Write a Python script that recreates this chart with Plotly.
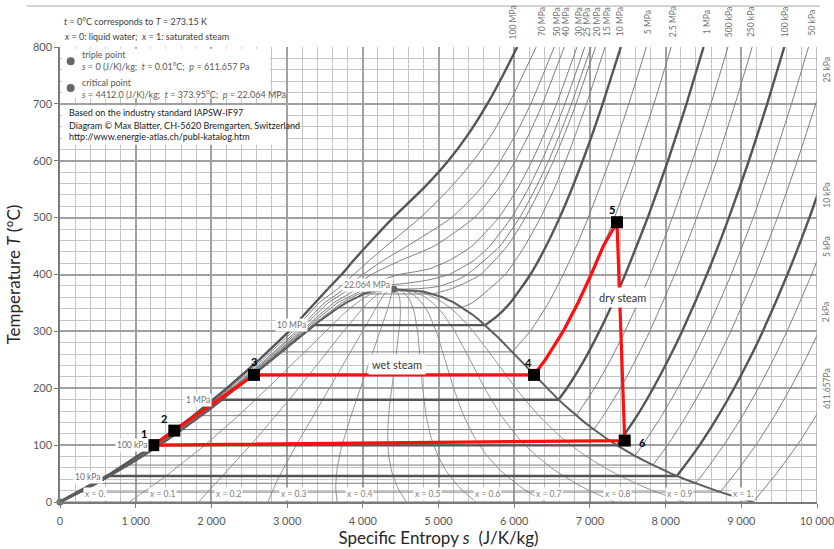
import plotly.graph_objects as go

# ---------------------------------------------------------------
# Saturation curve of water (T in °C, s in J/(K·kg))
# ---------------------------------------------------------------
SAT_T = [0.01, 10, 20, 30, 40, 50, 60, 70, 80, 90, 100, 110, 120, 130, 140, 150,
         160, 170, 180, 190, 200, 210, 220, 230, 240, 250, 260, 270, 280, 290,
         300, 310, 320, 330, 340, 350, 360, 365, 370, 372, 373.5, 373.95]
SAT_SF = [0, 151, 297, 437, 572, 704, 831, 955, 1075, 1193, 1307, 1419, 1528,
          1635, 1739, 1842, 1943, 2042, 2140, 2236, 2331, 2425, 2518, 2611, 2702,
          2794, 2885, 2976, 3067, 3159, 3253, 3349, 3449, 3551, 3659, 3777, 3916,
          4000, 4111, 4200, 4310, 4412]
SAT_SG = [9156, 8899, 8666, 8453, 8256, 8075, 7908, 7755, 7611, 7479, 7354, 7238,
          7129, 7027, 6929, 6837, 6750, 6666, 6585, 6507, 6431, 6356, 6285, 6214,
          6143, 6073, 6001, 5928, 5856, 5781, 5705, 5621, 5537, 5443, 5336, 5211,
          5054, 4946, 4801, 4620, 4510, 4412]

QUALITY = [0.1, 0.2, 0.3, 0.4, 0.5, 0.6, 0.7, 0.8, 0.9]
QUALITY_LABELS = ["x = 0.", "x = 0.1", "x = 0.2", "x = 0.3", "x = 0.4", "x = 0.5",
                  "x = 0.6", "x = 0.7", "x = 0.8", "x = 0.9", "x = 1."]
QUALITY_LABEL_S = [460, 1360, 2220, 3090, 3960, 4860, 5650, 6450, 7360, 8190, 9020]

# ---------------------------------------------------------------
# Sub-critical isobars: saturation state + superheated branch
# ---------------------------------------------------------------
SUB_NAMES = ["611.657 Pa", "2 kPa", "5 kPa", "10 kPa", "25 kPa", "50 kPa",
             "100 kPa", "250 kPa", "500 kPa", "1 MPa", "2.5 MPa", "5 MPa",
             "10 MPa", "15 MPa", "20 MPa"]
SUB_TSAT = [0.01, 17.50, 32.87, 45.81, 64.96, 81.32, 99.61, 127.41, 151.83,
            179.88, 223.95, 263.94, 311.00, 342.16, 365.75]
SUB_SF = [0, 261, 476, 649, 893, 1091, 1303, 1607, 1861, 2138, 2554, 2921,
          3360, 3685, 4015]
SUB_SG = [9156, 8722, 8394, 8149, 7831, 7593, 7359, 7052, 6821, 6585, 6256,
          5974, 5616, 5311, 4931]

VAP_T_611PA = [50, 100, 150, 200]
VAP_S_611PA = [9464, 9739, 9979, 10195]
VAP_T_2K = [50, 100, 150, 200, 250, 300, 350]
VAP_S_2K = [8917, 9192, 9432, 9648, 9845, 10026, 10195]
VAP_T_5K = [50, 100, 150, 200, 250, 300, 400, 500]
VAP_S_5K = [8498, 8769, 9009, 9225, 9421, 9603, 9929, 10220]
VAP_T_10K = [50, 100, 150, 200, 250, 300, 400, 500, 600]
VAP_S_10K = [8174, 8449, 8689, 8905, 9102, 9283, 9609, 9900, 10163]
VAP_T_25K = [100, 150, 200, 250, 300, 400, 500, 600, 700, 800]
VAP_S_25K = [8027, 8267, 8483, 8680, 8861, 9187, 9477, 9741, 9983, 10211]
VAP_T_50K = [100, 150, 200, 250, 300, 400, 500, 600, 700, 800]
VAP_S_50K = [7695, 7941, 8159, 8357, 8539, 8866, 9157, 9420, 9663, 9888]
VAP_T_100K = [150, 200, 250, 300, 400, 500, 600, 700, 800]
VAP_S_100K = [7615, 7836, 8035, 8217, 8545, 8836, 9100, 9342, 9568]
VAP_T_250K = [150, 200, 250, 300, 400, 500, 600, 700, 800]
VAP_S_250K = [7170, 7402, 7605, 7790, 8120, 8411, 8676, 8918, 9144]
VAP_T_500K = [200, 250, 300, 350, 400, 500, 600, 700, 800]
VAP_S_500K = [7061, 7273, 7461, 7635, 7796, 8089, 8354, 8598, 8824]
VAP_T_1M = [200, 250, 300, 350, 400, 500, 600, 700, 800]
VAP_S_1M = [6696, 6927, 7125, 7303, 7467, 7764, 8031, 8276, 8502]
VAP_T_2M5 = [250, 300, 350, 400, 450, 500, 600, 700, 800]
VAP_S_2M5 = [6411, 6646, 6842, 7017, 7177, 7325, 7598, 7846, 8074]
VAP_T_5M = [300, 350, 400, 450, 500, 600, 700, 800]
VAP_S_5M = [6211, 6452, 6648, 6821, 6978, 7261, 7514, 7746]
VAP_T_10M = [325, 350, 400, 450, 500, 550, 600, 650, 700, 800]
VAP_S_10M = [5760, 5946, 6214, 6422, 6600, 6759, 6905, 7041, 7169, 7409]
VAP_T_15M = [350, 400, 450, 500, 550, 600, 650, 700, 800]
VAP_S_15M = [5444, 5881, 6140, 6348, 6527, 6680, 6821, 6955, 7200]
VAP_T_20M = [375, 385, 400, 450, 500, 550, 600, 650, 700, 800]
VAP_S_20M = [5170, 5350, 5557, 5908, 6148, 6344, 6520, 6675, 6817, 7074]

SUB_VAP_T = [VAP_T_611PA, VAP_T_2K, VAP_T_5K, VAP_T_10K, VAP_T_25K, VAP_T_50K,
             VAP_T_100K, VAP_T_250K, VAP_T_500K, VAP_T_1M, VAP_T_2M5, VAP_T_5M,
             VAP_T_10M, VAP_T_15M, VAP_T_20M]
SUB_VAP_S = [VAP_S_611PA, VAP_S_2K, VAP_S_5K, VAP_S_10K, VAP_S_25K, VAP_S_50K,
             VAP_S_100K, VAP_S_250K, VAP_S_500K, VAP_S_1M, VAP_S_2M5, VAP_S_5M,
             VAP_S_10M, VAP_S_15M, VAP_S_20M]

# ---------------------------------------------------------------
# Critical and super-critical isobars
# ---------------------------------------------------------------
SUP_NAMES = ["22.064 MPa", "25 MPa", "30 MPa", "40 MPa", "50 MPa", "70 MPa", "100 MPa"]
COMP_T = [0.01, 50, 100, 150, 200, 250, 300, 350]
COMP_S_22M = [0, 703, 1300, 1832, 2318, 2780, 3220, 3720]
COMP_S_25M = [0, 700, 1293, 1822, 2304, 2765, 3200, 3660]
COMP_S_30M = [0, 698, 1289, 1815, 2295, 2752, 3180, 3610]
COMP_S_40M = [0, 694, 1281, 1802, 2280, 2730, 3150, 3540]
COMP_S_50M = [0, 690, 1274, 1792, 2265, 2710, 3120, 3490]
COMP_S_70M = [0, 682, 1260, 1772, 2240, 2675, 3075, 3420]
COMP_S_100M = [-10, 670, 1240, 1745, 2205, 2630, 3025, 3360]

HOT_T_22M = [365, 370, 373, 373.95, 375, 377, 380, 390, 400, 450, 500, 550, 600, 650, 700, 800]
HOT_S_22M = [3930, 4060, 4220, 4412, 4720, 4900, 5030, 5240, 5380, 5812, 6072, 6277, 6455, 6613, 6756, 7015]
HOT_T_25M = [375, 380, 385, 390, 400, 425, 450, 500, 550, 600, 650, 700, 800]
HOT_S_25M = [4034, 4260, 4600, 4850, 5140, 5470, 5676, 5964, 6182, 6364, 6524, 6670, 6932]
HOT_T_30M = [375, 400, 405, 410, 425, 450, 500, 550, 600, 650, 700, 800]
HOT_S_30M = [3931, 4476, 4700, 4880, 5147, 5442, 5796, 6040, 6237, 6407, 6560, 6830]
HOT_T_40M = [375, 400, 425, 450, 500, 550, 600, 650, 700, 800]
HOT_S_40M = [3829, 4115, 4504, 4945, 5474, 5786, 6017, 6208, 6374, 6661]
HOT_T_50M = [375, 400, 425, 450, 500, 550, 600, 650, 700, 800]
HOT_S_50M = [3764, 4003, 4273, 4588, 5173, 5549, 5818, 6034, 6219, 6529]
HOT_T_70M = [375, 400, 425, 450, 500, 550, 600, 650, 700, 800]
HOT_S_70M = [3670, 3880, 4090, 4310, 4760, 5140, 5460, 5720, 5930, 6290]
HOT_T_100M = [375, 400, 425, 450, 500, 550, 600, 650, 700, 750, 800]
HOT_S_100M = [3540, 3720, 3880, 4050, 4400, 4790, 5130, 5410, 5645, 5850, 6040]

SUP_COMP_S = [COMP_S_22M, COMP_S_25M, COMP_S_30M, COMP_S_40M, COMP_S_50M, COMP_S_70M, COMP_S_100M]
SUP_HOT_T = [HOT_T_22M, HOT_T_25M, HOT_T_30M, HOT_T_40M, HOT_T_50M, HOT_T_70M, HOT_T_100M]
SUP_HOT_S = [HOT_S_22M, HOT_S_25M, HOT_S_30M, HOT_S_40M, HOT_S_50M, HOT_S_70M, HOT_S_100M]

EMPHASISED = ["10 kPa", "100 kPa", "1 MPa", "10 MPa", "100 MPa"]

# labels along the top edge (isobar, s at the top) and along the right edge (isobar, T)
TOP_LABELS = ["100 MPa", "70 MPa", "50 MPa", "40 MPa", "30 MPa", "25 MPa", "20 MPa",
              "15 MPa", "10 MPa", "5 MPa", "2.5 MPa", "1 MPa", "500 kPa", "250 kPa",
              "100 kPa", "50 kPa"]
TOP_LABEL_S = [5990, 6370, 6570, 6690, 6860, 6960, 7100, 7230, 7400, 7770, 8100,
               8550, 8840, 9130, 9580, 9940]
RIGHT_LABELS = ["25 kPa", "10 kPa", "5 kPa", "2 kPa", "611.657Pa"]
RIGHT_LABEL_T = [760, 540, 450, 335, 200]

# Rankine cycle 1-2-3-4-5-6
CYCLE_S = [1232, 1510, 2563, 6262, 6411, 6646, 6842, 7017, 7177, 7358, 7460, 1232]
CYCLE_T = [100, 125.5, 223.5, 223.5, 250, 300, 350, 400, 450, 492, 108, 100]
STATE_NUM = ["1", "2", "3", "4", "5", "6"]
STATE_S = [1232, 1510, 2563, 6262, 7358, 7460]
STATE_T = [100, 125.5, 223.5, 223.5, 492, 108]

TRIPLE = (0, 0.01)
CRITICAL = (4412, 373.95)

FONT = "Lato, Carlito, 'Liberation Sans', sans-serif"
THIN = "#7d7d7d"
THICK = "#555555"

fig = go.Figure()


def add_line(s, t, name, smooth):
    strong = name in EMPHASISED
    line = dict(color=THICK if strong else THIN, width=2.4 if strong else 1.0)
    if smooth:
        line.update(shape="spline", smoothing=0.5)
    fig.add_trace(go.Scatter(x=s, y=t, mode="lines", name=name, hoverinfo="name",
                             line=line, showlegend=False))


# quality lines (fan out of the critical point)
for q in QUALITY:
    s_q = [sf + q * (sg - sf) for sf, sg in zip(SAT_SF, SAT_SG)]
    fig.add_trace(go.Scatter(x=s_q, y=SAT_T, mode="lines", hoverinfo="skip",
                             line=dict(color="#8a8a8a", width=0.9), showlegend=False))

# sub-critical isobars: compressed liquid (on the boiling line), wet region, superheated
for name, tsat, sf, sg, vt, vs in zip(SUB_NAMES, SUB_TSAT, SUB_SF, SUB_SG, SUB_VAP_T, SUB_VAP_S):
    liq_s = [s for s, t in zip(SAT_SF, SAT_T) if t < tsat]
    liq_t = [t for t in SAT_T if t < tsat]
    fig.add_trace(go.Scatter(
        x=liq_s + [sf, sg], y=liq_t + [tsat, tsat], mode="lines", hoverinfo="skip",
        line=dict(color=THICK if name in EMPHASISED else THIN,
                  width=2.4 if name in EMPHASISED else 1.0), showlegend=False))
    add_line([sg] + vs, [tsat] + vt, name, True)

# critical and super-critical isobars: liquid-like part, then the hot branch
for name, cs, ht, hs in zip(SUP_NAMES, SUP_COMP_S, SUP_HOT_T, SUP_HOT_S):
    add_line(cs + hs[:1], COMP_T + ht[:1], name, False)
    k = 3 if name == "22.064 MPa" else 0
    add_line(hs[:k + 1], ht[:k + 1], name, False)
    add_line(hs[k:], ht[k:], name, True)

# saturation dome
fig.add_trace(go.Scatter(
    x=SAT_SF + SAT_SG[::-1], y=SAT_T + SAT_T[::-1], mode="lines", hoverinfo="skip",
    line=dict(color="#5e5e5e", width=2.0), showlegend=False))

# triple and critical point
fig.add_trace(go.Scatter(x=[TRIPLE[0], CRITICAL[0]], y=[TRIPLE[1], CRITICAL[1]],
                         mode="markers", marker=dict(color="#666666", size=7),
                         hoverinfo="skip", showlegend=False, cliponaxis=False))

# cycle
fig.add_trace(go.Scatter(x=CYCLE_S, y=CYCLE_T, mode="lines", hoverinfo="skip",
                         line=dict(color="#ff1010", width=3.2), showlegend=False))
fig.add_trace(go.Scatter(x=STATE_S, y=STATE_T, mode="markers", hoverinfo="skip",
                         marker=dict(symbol="square", size=12, color="black"),
                         showlegend=False))

ann = []
num_offsets = [(-9, 12), (-10, 12), (0, 13), (-6, 12), (-5, 13), (18, -2)]
for lab, s, t, (dx, dy) in zip(STATE_NUM, STATE_S, STATE_T, num_offsets):
    ann.append(dict(x=s, y=t, text=f"<b>{lab}</b>", showarrow=False, xshift=dx, yshift=dy,
                    xanchor="center", yanchor="middle",
                    font=dict(size=11, color="black", family=FONT)))

# boxed labels inside the chart
boxed = [("wet steam", 4450, 242, 11, "#333333", 3),
         ("dry steam", 7437, 360, 11, "#333333", 3),
         ("22.064 MPa", 4060, 382, 8.5, "#707070", 1),
         ("10 MPa", 3060, 311, 8.5, "#707070", 1),
         ("1 MPa", 1823, 180, 8.5, "#707070", 1),
         ("100 kPa", 951, 100, 8.5, "#707070", 1),
         ("10 kPa", 370, 44, 8.5, "#707070", 1)]
for text, s, t, size, col, pad in boxed:
    ann.append(dict(x=s, y=t, text=text, showarrow=False, bgcolor="white", borderpad=pad,
                    xanchor="center", yanchor="middle",
                    font=dict(size=size, color=col, family=FONT)))

for text, s in zip(QUALITY_LABELS, QUALITY_LABEL_S):
    ann.append(dict(x=s, y=14, text=text, showarrow=False, bgcolor="white", borderpad=1,
                    xanchor="center", yanchor="middle",
                    font=dict(size=8.5, color="#808080", family=FONT)))

for text, s in zip(TOP_LABELS, TOP_LABEL_S):
    ann.append(dict(x=s, y=1.055, yref="paper", text=text, showarrow=False, textangle=-90,
                    xanchor="center", yanchor="middle",
                    font=dict(size=8.5, color="#707070", family=FONT)))
for text, t in zip(RIGHT_LABELS, RIGHT_LABEL_T):
    ann.append(dict(x=1.013, xref="paper", y=t, text=text, showarrow=False, textangle=-90,
                    xanchor="center", yanchor="middle",
                    font=dict(size=8.5, color="#707070", family=FONT)))

# notes above the plot
ann.append(dict(x=0.003, xref="paper", y=1.055, yref="paper", xanchor="left", yanchor="middle",
                text="<i>t</i> = 0°C corresponds to <i>T</i> = 273.15 K", showarrow=False,
                font=dict(size=9, color="#404040", family=FONT)))
ann.append(dict(x=0.003, xref="paper", y=1.022, yref="paper", xanchor="left", yanchor="middle",
                text="<i>x</i> = 0: liquid water;  <i>x</i> = 1: saturated steam", showarrow=False,
                font=dict(size=9, color="#404040", family=FONT)))

# key to the two marked points
key_lines = [("triple point", 786), ("<i>s</i> = 0 (J/K)/kg;  <i>t</i> = 0.01°C;  <i>p</i> = 611.657 Pa", 766),
             ("critical point", 738), ("<i>s</i> = 4412.0 (J/K)/kg;  <i>t</i> = 373.95°C;  <i>p</i> = 22.064 MPa", 717)]
for text, t in key_lines:
    ann.append(dict(x=264, y=t, xanchor="left", yanchor="middle", text=text, showarrow=False,
                    font=dict(size=9, color="#595959", family=FONT)))
credit = ["Based on the industry standard IAPSW-IF97",
          "Diagram © Max Blatter, CH-5620 Bremgarten, Switzerland",
          "http://www.energie-atlas.ch/publ-katalog.htm"]
for text, t in zip(credit, [684, 662, 642]):
    ann.append(dict(x=92, y=t, xanchor="left", yanchor="middle", text=text, showarrow=False,
                    font=dict(size=9, color="#1a1a1a", family=FONT)))

fig.add_trace(go.Scatter(x=[141, 141], y=[775, 728], mode="markers",
                         marker=dict(color="#666666", size=8), hoverinfo="skip",
                         showlegend=False))

shapes = [
    dict(type="rect", xref="x", yref="y", x0=26, x1=2770, y0=710, y1=797,
         fillcolor="white", line=dict(width=0), layer="between"),
    dict(type="rect", xref="x", yref="y", x0=26, x1=2985, y0=628, y1=697,
         fillcolor="white", line=dict(width=0), layer="between"),
    dict(type="line", xref="paper", yref="paper", x0=-0.044, x1=1.004, y0=1.09, y1=1.09,
         line=dict(color="#a6a6a6", width=1)),
    dict(type="line", xref="x", yref="y", x0=10000, x1=10000, y0=0, y1=800,
         line=dict(color="#a0a0a0", width=1.4)),
]

TICK_S = [0, 1000, 2000, 3000, 4000, 5000, 6000, 7000, 8000, 9000, 10000]
TICK_S_TEXT = ["0", "1 000", "2 000", "3 000", "4 000", "5 000", "6 000", "7 000",
               "8 000", "9 000", "10 000"]

fig.update_layout(
    width=834, height=549,
    margin=dict(l=60, r=17, t=47, b=47, autoexpand=False),
    paper_bgcolor="white", plot_bgcolor="white",
    font=dict(family=FONT),
    annotations=ann, shapes=shapes,
    xaxis=dict(range=[0, 10000], tickvals=TICK_S, ticktext=TICK_S_TEXT, automargin=False,
               showgrid=True, gridcolor="#a0a0a0", gridwidth=1.5,
               minor=dict(dtick=200, showgrid=True, gridcolor="#c4c4c4", gridwidth=1),
               showline=True, linecolor="#7a7a7a", linewidth=1.5, mirror=False,
               ticks="outside", ticklen=4, tickcolor="#7a7a7a", ticklabelstandoff=4,
               ticklabeloverflow="allow",
               tickfont=dict(size=11, color="#595959"), zeroline=False,
               title=dict(text="Specific Entropy <i>s</i>  (J/K/kg)", standoff=2,
                          font=dict(size=17, color="#262626"))),
    yaxis=dict(range=[0, 800], dtick=100, automargin=False,
               showgrid=True, gridcolor="#a0a0a0", gridwidth=1.5,
               minor=dict(dtick=20, showgrid=True, gridcolor="#c4c4c4", gridwidth=1),
               showline=True, linecolor="#7a7a7a", linewidth=1.5,
               ticks="outside", ticklen=4, tickcolor="#7a7a7a",
               tickfont=dict(size=11, color="#595959"), zeroline=False,
               title=dict(text="Temperature <i>T</i> (°C)", standoff=8,
                          font=dict(size=17, color="#262626"))),
)

fig.write_html("out.html")
